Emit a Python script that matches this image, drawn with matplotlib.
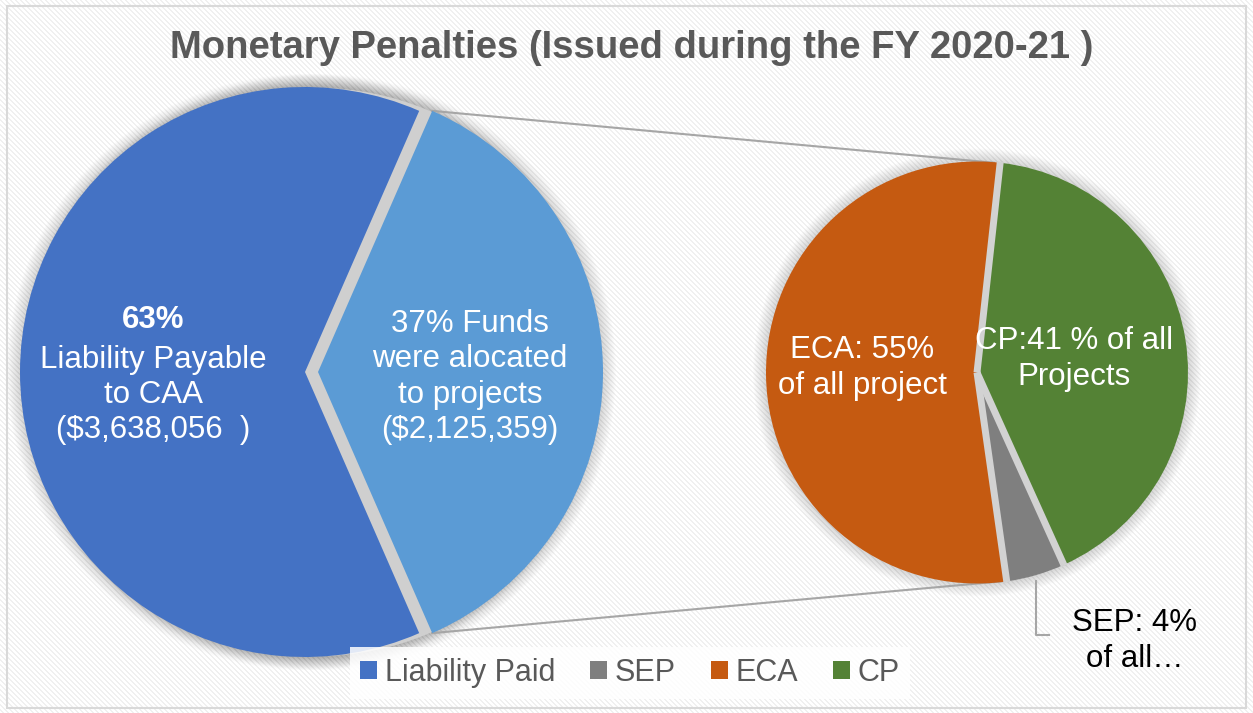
import numpy as np
import matplotlib
matplotlib.use("Agg")
import matplotlib.pyplot as plt
import matplotlib.patches as mpatches

plt.rcParams['font.family'] = ['Liberation Sans', 'DejaVu Sans']

# data
main_labels = ['Liability Paid', 'Funds to projects']
main_values = [3638056, 2125359]
main_colors = ['#4472C4', '#5B9BD5']

sub_labels = ['ECA', 'SEP', 'CP']
sub_values = [54, 4.5, 41.5]
sub_colors = ['#C55A11', '#7F7F7F', '#548235']

title = 'Monetary Penalties (Issued during the FY 2020-21 )'

W, H = 1253, 713
fig = plt.figure(figsize=(W / 100, H / 100), dpi=100)
ax = fig.add_axes([0, 0, 1, 1])

# striped background
cols, rows = np.meshgrid(np.arange(W), np.arange(H))
stripes = np.where((cols - rows) % 5 < 2, 0.94, 1.0)
ax.imshow(stripes, cmap='gray', vmin=0, vmax=1, extent=(0, W, 0, H),
          origin='upper', zorder=0, interpolation='nearest')
ax.add_patch(mpatches.Rectangle((7, 5), W - 14, H - 11, fill=False,
                                edgecolor='#d9d9d9', lw=1.5, zorder=1))

c1, r1 = (305, 341), 285
c2, r2 = (977, 340.5), 211

# soft shadows
for cen, rad in [(c1, r1), ((c1[0] + 13, c1[1]), r1), (c2, r2)]:
    for k in range(1, 14):
        ax.add_patch(mpatches.Circle(cen, rad + k, color='k', alpha=0.013,
                                     lw=0, zorder=1))
    ax.add_patch(mpatches.Circle(cen, rad - 1, color='#cfcfcf', lw=0, zorder=1))

frac = main_values[1] / sum(main_values)
w1, _ = ax.pie(main_values, colors=main_colors, center=c1, radius=r1,
               startangle=180 * frac, explode=[0, 13],
               wedgeprops=dict(lw=0, zorder=2), frame=True)
w2, _ = ax.pie(sub_values, colors=sub_colors, center=c2, radius=r2,
               startangle=83.7, wedgeprops=dict(lw=0, zorder=2), frame=True)

# gaps between the slices of the small pie
for w in w2:
    a = np.radians(w.theta1)
    ax.plot([c2[0], c2[0] + (r2 + 1) * np.cos(a)],
            [c2[1], c2[1] + (r2 + 1) * np.sin(a)],
            color='#d2d2d2', lw=5, solid_capstyle='butt', zorder=2.5)

# connector lines
lb = w1[1]
eca = w2[0]
for a1, a2 in [(lb.theta2, eca.theta1), (lb.theta1, eca.theta2)]:
    p1 = (lb.center[0] + r1 * np.cos(np.radians(a1)),
          lb.center[1] + r1 * np.sin(np.radians(a1)))
    p2 = (c2[0] + r2 * np.cos(np.radians(a2)) - 6,
          c2[1] + r2 * np.sin(np.radians(a2)))
    ax.plot([p1[0], p2[0]], [p1[1], p2[1]], color='#a6a6a6', lw=1.5, zorder=1.5)

# labels
fs = 22.5
ls = 1.22
ax.text(153, 713 - 320, f'{main_values[0] / sum(main_values):.0%}',
        ha='center', va='center', color='white', fontsize=fs, fontweight='bold', zorder=3)
ax.text(153, 713 - 395, 'Liability Payable\nto CAA\n($3,638,056  )',
        ha='center', va='center', color='white', fontsize=fs, linespacing=ls, zorder=3)
ax.text(470, 713 - 377, '37% Funds\nwere alocated\nto projects\n($2,125,359)',
        ha='center', va='center', color='white', fontsize=fs, linespacing=ls, zorder=3)
ax.text(862, 713 - 368, 'ECA: 55%\nof all project',
        ha='center', va='center', color='white', fontsize=fs, linespacing=ls, zorder=3)
ax.text(1074, 713 - 359, 'CP:41 % of all\nProjects',
        ha='center', va='center', color='white', fontsize=fs, linespacing=ls, zorder=3)
ax.text(1135, 713 - 641, 'SEP: 4%\nof all…',
        ha='center', va='center', color='black', fontsize=fs, linespacing=ls, zorder=3)

# SEP leader line
sep = w2[1]
am = np.radians((sep.theta1 + sep.theta2) / 2)
x0 = c2[0] + r2 * np.cos(am)
y0 = c2[1] + r2 * np.sin(am)
ax.plot([x0, x0, x0 + 13], [y0 - 6, 713 - 635, 713 - 635], color='#a6a6a6',
        lw=1.5, zorder=3)

ax.text(632, 713 - 48, title, ha='center', va='center', color='#595959',
        fontsize=27.5, fontweight='bold', zorder=3)

order = [(w1[0], main_labels[0]), (w2[1], sub_labels[1]),
         (w2[0], sub_labels[0]), (w2[2], sub_labels[2])]
handles = [mpatches.Patch(facecolor=w.get_facecolor(), edgecolor='none') for w, _ in order]
names = [n for _, n in order]
leg = ax.legend(handles, names, loc='center', bbox_to_anchor=(630, 713 - 673),
                bbox_transform=ax.transData, ncol=4, frameon=True, fontsize=22,
                handlelength=0.55, handleheight=0.55, handletextpad=0.25,
                columnspacing=1.15, borderpad=0.35, fancybox=False)
leg.get_frame().set_facecolor('white')
leg.get_frame().set_alpha(0.85)
leg.get_frame().set_linewidth(0)
for t in leg.get_texts():
    t.set_color('#595959')
leg.set_zorder(4)

ax.set_xlim(0, W)
ax.set_ylim(0, H)
ax.set_aspect('auto')
ax.axis('off')

fig.savefig('out.png', dpi=100)
